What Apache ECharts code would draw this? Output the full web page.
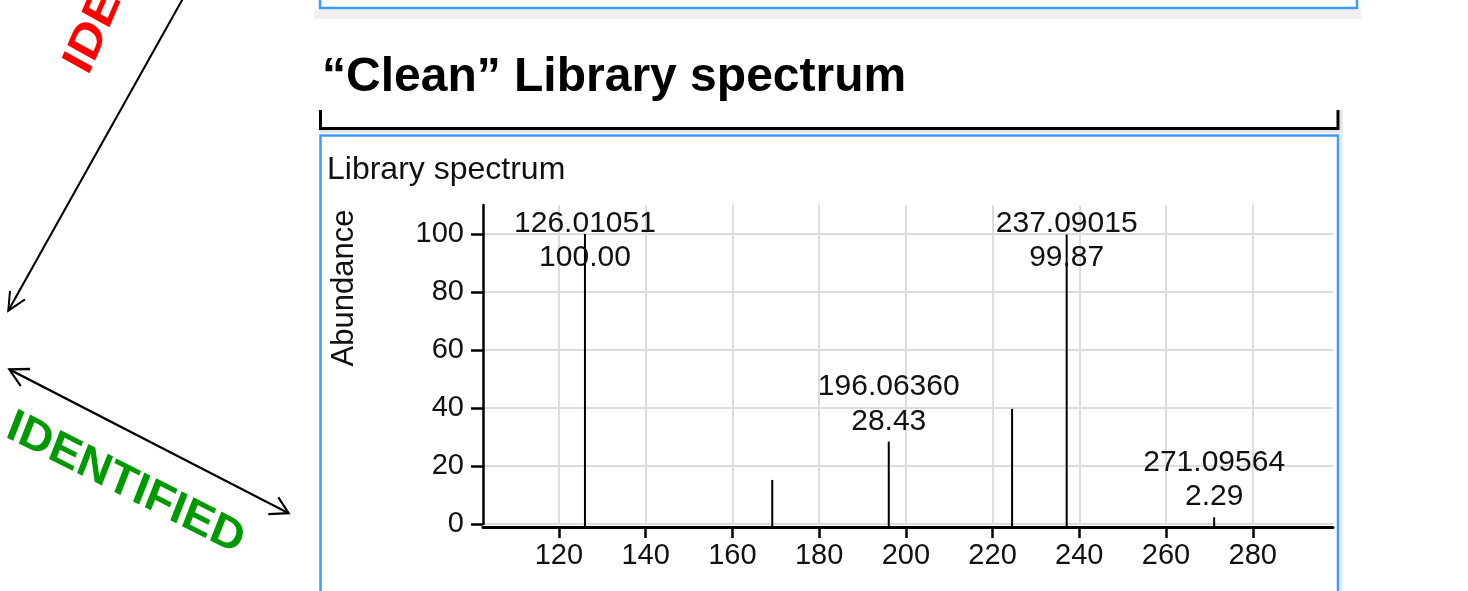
<!DOCTYPE html>
<html>
<head>
<meta charset="utf-8">
<script src="https://cdn.jsdelivr.net/npm/echarts@6/dist/echarts.min.js"></script>
<style>
html,body{margin:0;padding:0;background:#fff;}
#chart{width:1468px;height:591px;}
</style>
</head>
<body>
<div id="chart"></div>
<script>
// ---- data ----
const mzValues   = [126.01051, 169.2, 196.06360, 224.5, 237.09015, 271.09564];
const abundances = [100.00, 15.2, 28.43, 39.7, 99.87, 2.29];
const labeled    = [true, false, true, false, true, true];
const xTickValues = [120, 140, 160, 180, 200, 220, 240, 260, 280];
const yTickValues = [0, 20, 40, 60, 80, 100];
const mainTitle = '\u201CClean\u201D Library spectrum';
const panelTitle = 'Library spectrum';
const yAxisTitle = 'Abundance';

const FONT = "'Liberation Sans', Arial, sans-serif";

const peakData = mzValues.map((m, i) => [m, abundances[i], labeled[i] ? 1 : 0]);

const chart = echarts.init(document.getElementById('chart'), null, {renderer: 'canvas'});

function renderPeak(params, api) {
  const x = api.value(0), y = api.value(1), show = api.value(2);
  const top = api.coord([x, y]);
  const base = api.coord([x, 0]);
  const cs = params.coordSys;
  const children = [{
    type: 'line',
    shape: {x1: top[0], y1: base[1] + 3, x2: top[0], y2: top[1]},
    style: {stroke: '#000', lineWidth: 2}
  }];
  if (show) {
    const lineH = 34.5;
    let boxTop = top[1] - 4 - lineH * 2;
    if (boxTop < cs.y) boxTop = cs.y;
    children.push({
      type: 'text',
      style: {
        text: x.toFixed(5) + '\n' + y.toFixed(2),
        x: top[0], y: boxTop + 1,
        align: 'center', verticalAlign: 'top',
        font: '30px ' + FONT, lineHeight: lineH, fill: '#111'
      }
    });
  }
  return {type: 'group', children: children};
}

const option = {
  backgroundColor: '#fff',
  animation: false,
  title: [
    {text: mainTitle, left: 322, top: 53, padding: 0,
     textStyle: {fontFamily: FONT, fontSize: 48, fontWeight: 'bold', color: '#000', lineHeight: 50}},
    {text: panelTitle, left: 327, top: 152, padding: 0,
     textStyle: {fontFamily: FONT, fontSize: 32, fontWeight: 'normal', color: '#111', lineHeight: 36}}
  ],
  grid: {left: 483, right: 135, top: 205, bottom: 67, containLabel: false},
  xAxis: {
    type: 'value', min: 102.5, max: 298.5, offset: 3,
    axisLine: {show: true, onZero: false, lineStyle: {color: '#000', width: 3}},
    axisTick: {show: true, length: 11, customValues: xTickValues, lineStyle: {color: '#000', width: 2.5}},
    axisLabel: {customValues: xTickValues, margin: 14, fontFamily: FONT, fontSize: 29, color: '#111', lineHeight: 30},
    splitLine: {show: true, lineStyle: {color: '#dcdcdc', width: 2}}
  },
  yAxis: {
    type: 'value', min: 0, max: 110,
    axisLine: {show: true, lineStyle: {color: '#000', width: 2.5}},
    axisTick: {show: true, length: 12, customValues: yTickValues, lineStyle: {color: '#000', width: 2.5}},
    axisLabel: {customValues: yTickValues, margin: 19, fontFamily: FONT, fontSize: 29, color: '#111'},
    splitLine: {show: true, lineStyle: {color: '#dcdcdc', width: 2}}
  },
  series: [{
    type: 'custom',
    coordinateSystem: 'cartesian2d',
    renderItem: renderPeak,
    encode: {x: 0, y: 1},
    data: peakData,
    z: 5
  }],
  graphic: [
    // top panel remnant
    {type: 'rect', shape: {x: 314, y: 9.5, width: 1047, height: 9.5}, style: {fill: '#f0f0f0'}, z: -1},
    {type: 'rect', shape: {x: 320, y: -10, width: 1037, height: 18}, style: {fill: null, stroke: '#3d9bff', lineWidth: 2.5}},
    // black bracket with light shadow
    {type: 'polyline', shape: {points: [[1341.5, 110], [1341.5, 131.5], [320, 131.5]]}, style: {stroke: '#e6e6e6', lineWidth: 3, fill: null}},
    {type: 'polyline', shape: {points: [[320.5, 110], [320.5, 128.5], [1338, 128.5], [1338, 110]]}, style: {stroke: '#000', lineWidth: 3, fill: null}},
    // lower panel frame
    {type: 'line', shape: {x1: 1341.5, y1: 134, x2: 1341.5, y2: 600}, style: {stroke: '#ececec', lineWidth: 3}},
    {type: 'rect', shape: {x: 320.5, y: 135.5, width: 1017.5, height: 500}, style: {fill: null, stroke: '#3d9bff', lineWidth: 2.5}},
    // y-axis title
    {type: 'text', x: 344, y: 288, rotation: Math.PI / 2,
     style: {text: yAxisTitle, font: '31px ' + FONT, fill: '#111', align: 'center', verticalAlign: 'middle'}},
    // left annotations (slide content is stretched vertically)
    {type: 'group', x: 0, y: 0, scaleY: 1.134, children: [
      {type: 'line', shape: {x1: 184, y1: -3, x2: 8.3, y2: 274}, style: {stroke: '#000', lineWidth: 2}},
      {type: 'polyline', shape: {points: [[25, 264], [8.3, 274], [10, 256.6]]}, style: {stroke: '#000', lineWidth: 2, fill: null}},
      {type: 'line', shape: {x1: 9.3, y1: 325.7, x2: 288.7, y2: 452.6}, style: {stroke: '#000', lineWidth: 2}},
      {type: 'polyline', shape: {points: [[30, 325.4], [9.3, 325.7], [20.7, 340.4]]}, style: {stroke: '#000', lineWidth: 2, fill: null}},
      {type: 'polyline', shape: {points: [[268.3, 453.3], [288.7, 452.6], [278.3, 438.5]]}, style: {stroke: '#000', lineWidth: 2, fill: null}},
      {type: 'text', x: 77, y: 61.7, rotation: 1.117,
       style: {text: 'IDE', font: 'bold 45px ' + FONT, fill: '#ff0000', align: 'left', verticalAlign: 'middle'}},
      {type: 'text', x: 125.5, y: 426.5, rotation: -0.42, scaleY: 0.88,
       style: {text: 'IDENTIFIED', font: 'bold 46px ' + FONT, fill: '#009900', align: 'center', verticalAlign: 'middle'}}
    ]}
  ]
};
chart.setOption(option);
</script>
</body>
</html>
